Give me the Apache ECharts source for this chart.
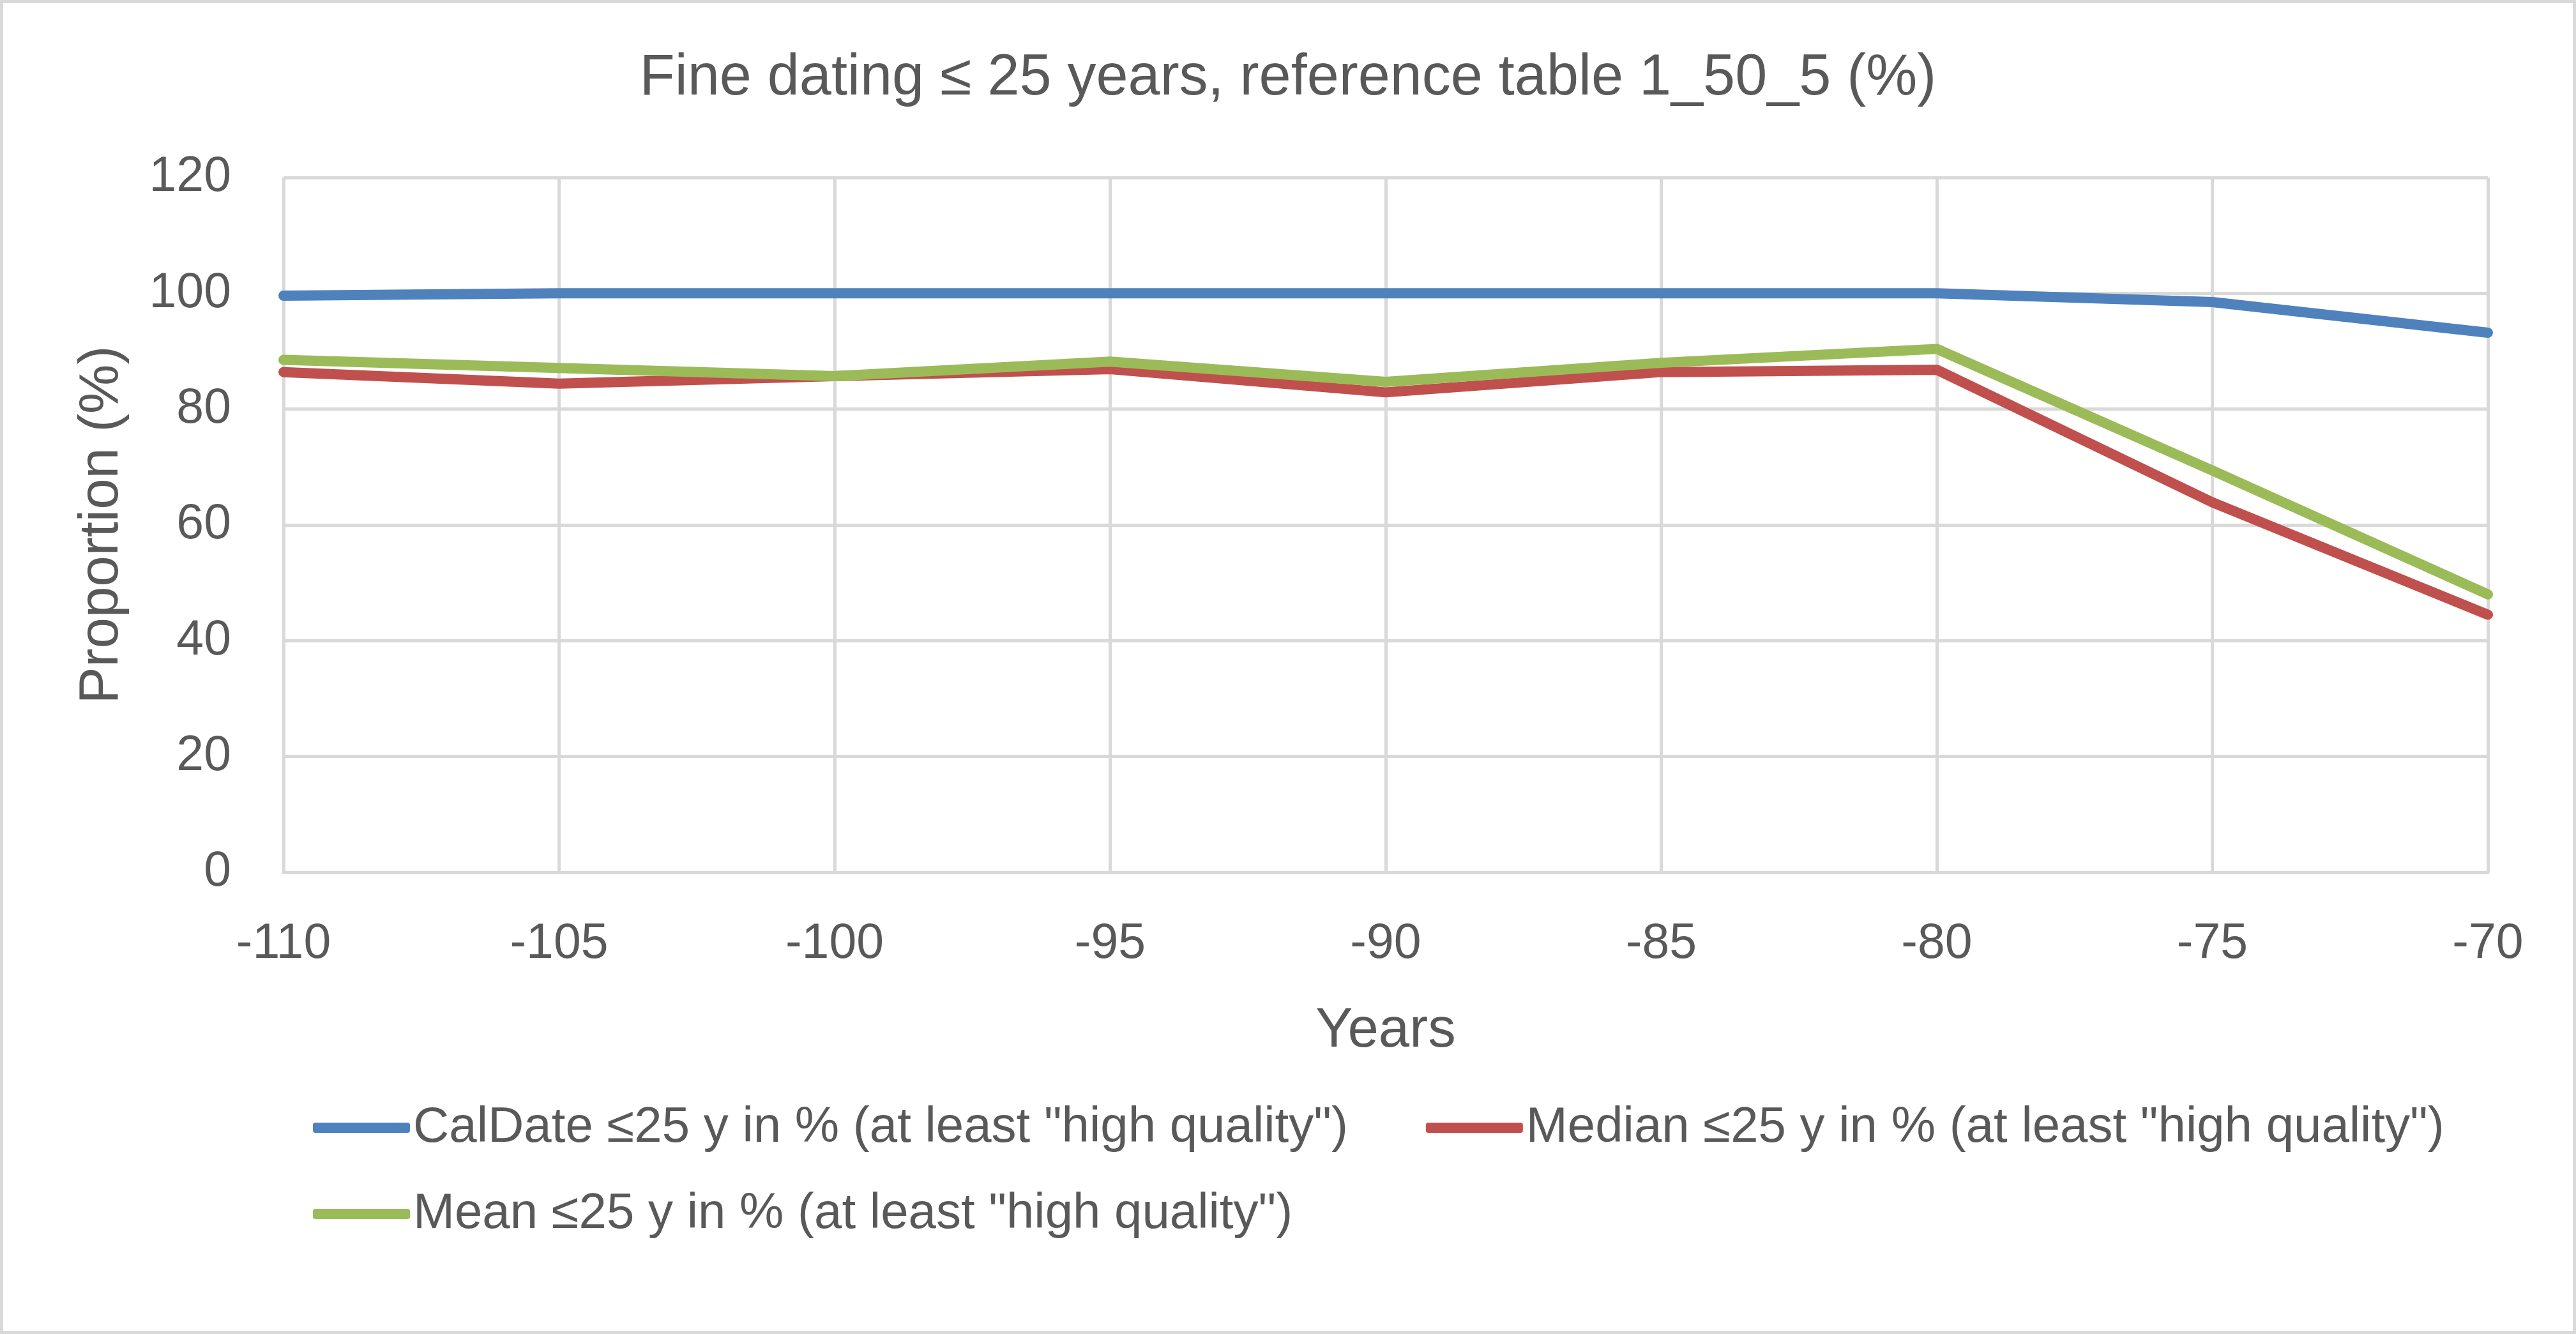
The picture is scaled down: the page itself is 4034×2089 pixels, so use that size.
<!DOCTYPE html>
<html>
<head>
<meta charset="utf-8">
<script src="https://cdn.jsdelivr.net/npm/echarts@6/dist/echarts.min.js"></script>
<style>
html,body{margin:0;padding:0;background:#fff;}
#chart{width:4034px;height:2089px;}
</style>
</head>
<body>
<div id="chart"></div>
<script>
const years = [-110, -105, -100, -95, -90, -85, -80, -75, -70];
const calDate = [99.6, 100, 100, 100, 100, 100, 100, 98.5, 93.2];
const median = [86.4, 84.4, 85.7, 86.9, 82.9, 86.4, 86.8, 63.9, 44.5];
const mean = [88.5, 87.1, 85.7, 88.2, 84.7, 88.0, 90.4, 69.4, 48.0];
const seriesNames = [
  'CalDate \u226425 y in % (at least "high quality")',
  'Median \u226425 y in % (at least "high quality")',
  'Mean \u226425 y in % (at least "high quality")'
];
const colors = ['#4f81bd', '#c0504d', '#9bbb59'];
const titleText = 'Fine dating \u2264 25 years, reference table 1_50_5 (%)';

const FONT = "'Liberation Sans', Arial, sans-serif";
const TXT = '#595959';
const GRID = '#d9d9d9';

function pairs(vals) { return years.map((y, i) => [y, vals[i]]); }

const chart = echarts.init(document.getElementById('chart'), null, {renderer: 'canvas'});
const lineSeries = [calDate, median, mean].map((vals, i) => ({
  name: seriesNames[i],
  type: 'line',
  data: pairs(vals),
  showSymbol: false,
  symbol: 'none',
  color: colors[i],
  lineStyle: {width: 16, color: colors[i], cap: 'round', join: 'round'},
  z: 8 + i,
  animation: false
}));

const legendCommon = {
  orient: 'horizontal',
  icon: 'roundRect',
  itemWidth: 152,
  itemHeight: 16,
  textStyle: {fontFamily: FONT, fontSize: 78, color: TXT, lineHeight: 78, padding: [0,0,0,0]},
  padding: 0
};

chart.setOption({
  backgroundColor: '#ffffff',
  animation: false,
  title: {
    text: titleText,
    left: 'center',
    top: 73,
    textStyle: {fontFamily: FONT, fontSize: 90, fontWeight: 'normal', color: TXT, lineHeight: 90}
  },
  graphic: [{
    type: 'rect',
    shape: {x: 2.5, y: 2.5, width: 4029, height: 2084},
    style: {fill: 'none', stroke: GRID, lineWidth: 5},
    silent: true
  }],
  legend: [
    Object.assign({}, legendCommon, {
      data: [seriesNames[0], seriesNames[1]],
      left: 490, top: 1727, itemGap: 122
    }),
    Object.assign({}, legendCommon, {
      data: [seriesNames[2]],
      left: 490, top: 1862
    })
  ],
  grid: {left: 444, right: 138, top: 278, bottom: 723, containLabel: false},
  xAxis: {
    type: 'value',
    min: -110, max: -70, interval: 5,
    name: 'Years',
    nameLocation: 'middle',
    nameGap: 206,
    nameTextStyle: {fontFamily: FONT, fontSize: 87, color: TXT, lineHeight: 87, verticalAlign: 'top'},
    axisLine: {show: true, lineStyle: {color: GRID, width: 5}},
    axisTick: {show: false},
    axisLabel: {fontFamily: FONT, fontSize: 77, color: TXT, margin: 74, lineHeight: 77},
    splitLine: {show: true, lineStyle: {color: GRID, width: 5}}
  },
  yAxis: {
    type: 'value',
    min: 0, max: 120, interval: 20,
    name: 'Proportion (%)',
    nameLocation: 'middle',
    nameGap: 240,
    nameRotate: 90,
    nameTextStyle: {fontFamily: FONT, fontSize: 87, color: TXT, lineHeight: 87},
    axisLine: {show: false},
    axisTick: {show: false},
    axisLabel: {fontFamily: FONT, fontSize: 77, color: TXT, margin: 82},
    splitLine: {show: true, lineStyle: {color: GRID, width: 5}}
  },
  series: lineSeries
});
</script>
</body>
</html>
